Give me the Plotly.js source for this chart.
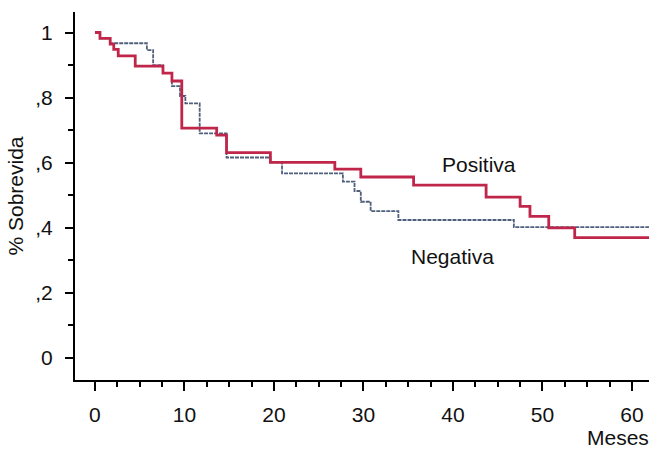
<!DOCTYPE html>
<html>
<head>
<meta charset="utf-8">
<script src="https://cdn.plot.ly/plotly-3.0.1.min.js"></script>
<style>html,body{margin:0;padding:0;background:#fff;}#chart{width:649px;height:450px;}</style>
</head>
<body>
<div id="chart"></div>
<script>
// Positiva (red) – Kaplan-Meier steps: time in months, survival fraction
const positivaMeses = [0, 0.56, 1.7, 2.1, 2.6, 4.5, 7.6, 8.6, 9.7, 13.6, 14.7, 19.6, 26.8, 29.7, 35.6, 43.7, 47.5, 48.6, 50.7, 53.6, 62];
const positivaSobrevida = [1.0, 0.982, 0.964, 0.948, 0.928, 0.897, 0.875, 0.851, 0.706, 0.685, 0.631, 0.601, 0.580, 0.556, 0.531, 0.494, 0.466, 0.435, 0.400, 0.370, 0.370];

// Negativa (grey-blue)
const negativaMeses = [0, 0.56, 1.7, 5.8, 6.5, 7.6, 8.6, 9.5, 10.1, 11.7, 14.7, 19.6, 20.9, 27.7, 29.0, 29.7, 30.8, 33.9, 46.8, 62];
const negativaSobrevida = [1.0, 0.982, 0.967, 0.946, 0.900, 0.875, 0.835, 0.805, 0.782, 0.690, 0.616, 0.601, 0.567, 0.542, 0.513, 0.480, 0.451, 0.424, 0.402, 0.402];

// Tick labels
const yTickVals = [0, 0.2, 0.4, 0.6, 0.8, 1];
const yTickText = ["0", ",2", ",4", ",6", ",8", "1"];
const xTickVals = [0, 10, 20, 30, 40, 50, 60];
const xTickText = ["0", "10", "20", "30", "40", "50", "60"];

const FONT = "Liberation Sans, Arial, Helvetica, sans-serif";
const FS = 21;

const traces = [
  {
    x: negativaMeses, y: negativaSobrevida, type: "scatter", mode: "lines",
    line: {shape: "hv", color: "#4f5f7c", width: 1.8, dash: "4px,1px"},
    name: "Negativa", hoverinfo: "skip"
  },
  {
    x: positivaMeses, y: positivaSobrevida, type: "scatter", mode: "lines",
    line: {shape: "hv", color: "#c0264a", width: 2.8},
    name: "Positiva", hoverinfo: "skip"
  }
];

const layout = {
  width: 649, height: 450,
  margin: {l: 75, r: 0, t: 12, b: 70},
  paper_bgcolor: "#ffffff", plot_bgcolor: "#ffffff",
  showlegend: false,
  font: {family: FONT, size: FS, color: "#111"},
  xaxis: {
    range: [-2.23, 61.9],
    showgrid: false, zeroline: false,
    showline: true, linecolor: "#000", linewidth: 2,
    tickmode: "array", tickvals: xTickVals, ticktext: xTickText,
    ticks: "outside", ticklen: 9, tickwidth: 2, tickcolor: "#000",
    ticklabelstandoff: 6,
    tickfont: {family: FONT, size: FS, color: "#111"},
    minor: {tick0: 0, dtick: 2.5, ticks: "outside", ticklen: 5, tickwidth: 2, tickcolor: "#000", showgrid: false}
  },
  yaxis: {
    range: [-0.0676, 1.063],
    showgrid: false, zeroline: false,
    showline: true, linecolor: "#000", linewidth: 2,
    tickmode: "array", tickvals: yTickVals, ticktext: yTickText,
    ticks: "outside", ticklen: 8, tickwidth: 2, tickcolor: "#000",
    ticklabelstandoff: 8,
    tickfont: {family: FONT, size: FS, color: "#111"},
    minor: {tick0: 0, dtick: 0.1, ticks: "outside", ticklen: 5, tickwidth: 2, tickcolor: "#000", showgrid: false},
    title: {text: "% Sobrevida", font: {family: FONT, size: FS, color: "#111"}, standoff: 6}
  },
  annotations: [
    {x: 42.9, y: 0.593, xref: "x", yref: "y", text: "Positiva", showarrow: false,
     font: {family: FONT, size: FS, color: "#111"}},
    {x: 40.0, y: 0.313, xref: "x", yref: "y", text: "Negativa", showarrow: false,
     font: {family: FONT, size: FS, color: "#111"}},
    {x: 0.946, y: -0.155, xref: "paper", yref: "paper", text: "Meses", showarrow: false,
     xanchor: "center", yanchor: "middle",
     font: {family: FONT, size: FS, color: "#111"}}
  ]
};

Plotly.newPlot("chart", traces, layout, {staticPlot: true, displayModeBar: false});
</script>
</body>
</html>
